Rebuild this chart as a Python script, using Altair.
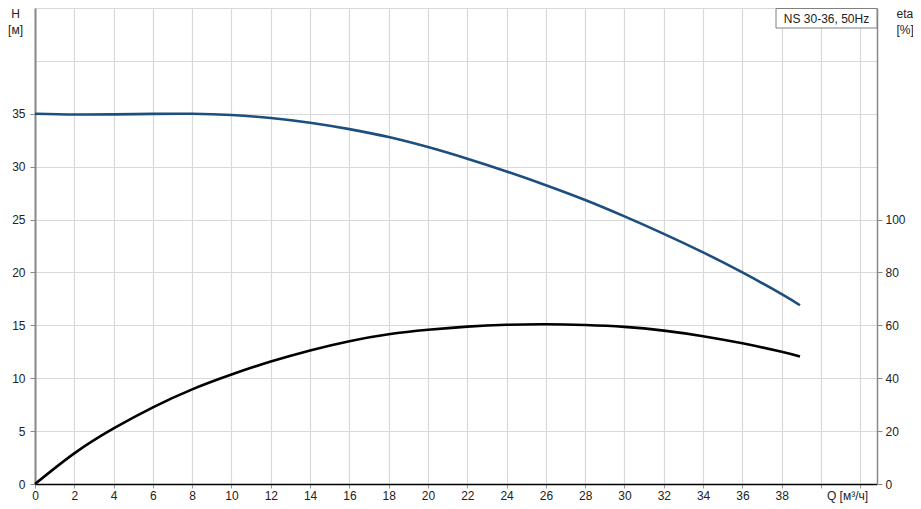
import altair as alt
import pandas as pd

# pump curve NS 30-36, 50Hz
flow = [0, 2, 4, 6, 8, 10, 12, 14, 16, 18, 20,
        22, 24, 26, 28, 30, 32, 34, 36, 38, 38.93]
head = [35.0, 34.93, 34.94, 34.99, 35.0, 34.88, 34.6, 34.15, 33.55, 32.8, 31.85,
        30.75, 29.55, 28.25, 26.85, 25.3, 23.65, 21.9, 20.0, 17.95, 16.9]
eff = [0, 11.6, 21.0, 29.0, 35.8, 41.4, 46.3, 50.5, 54.0, 56.6, 58.3,
       59.5, 60.2, 60.4, 60.1, 59.4, 58.0, 55.9, 53.2, 50.0, 48.2]

q_ticks = list(range(0, 43, 2))
h_ticks = list(range(0, 46, 5))
eta_ticks = [0, 20, 40, 60, 80, 100]
legend_text = ["NS 30-36, 50Hz"]

df = pd.DataFrame({"q": flow, "h": head, "eta": eff})

W, H = 842, 476
FONT = "Liberation Sans"

x = alt.X(
    "q:Q",
    scale=alt.Scale(domain=[0, 42.85], nice=False),
    axis=alt.Axis(
        values=q_ticks,
        labelExpr="datum.value > 38 ? '' : datum.label",
        labelFlush=False,
        labelOverlap=False,
        title="Q [м³/ч]",
        titleX=812,
        titleY=6,
        titleAlign="center",
        titleBaseline="top",
        domainColor="#000000",
        domainWidth=1.5,
        tickColor="#999999",
        tickSize=4,
        labelPadding=2,
        grid=True,
        gridColor="#d9d9d9",
        gridWidth=1.2,
    ),
)

y_h = alt.Y(
    "h:Q",
    scale=alt.Scale(domain=[0, 45], nice=False),
    axis=alt.Axis(
        values=h_ticks,
        labelExpr="datum.value > 35 ? '' : datum.label",
        labelFlush=False,
        labelOverlap=False,
        tickOpacity={"condition": {"test": "datum.value > 35", "value": 0}, "value": 1},
        title=["H", "[м]"],
        titleAngle=0,
        titleX=-20,
        titleY=0,
        titleAlign="center",
        titleBaseline="top",
        titleLineHeight=16,
        domainColor="#888888",
        domainWidth=2,
        tickColor="#888888",
        tickSize=5,
        labelPadding=5,
        grid=True,
        gridColor="#d9d9d9",
        gridWidth=1.2,
    ),
)

y_eta = alt.Y(
    "eta:Q",
    scale=alt.Scale(domain=[0, 180], nice=False),
    axis=alt.Axis(
        orient="right",
        values=eta_ticks,
        labelFlush=False,
        grid=False,
        title=["eta", "[%]"],
        titleAngle=0,
        titleX=19,
        titleY=0,
        titleAlign="left",
        titleBaseline="top",
        titleLineHeight=16,
        domainColor="#888888",
        domainWidth=1.5,
        tickColor="#888888",
        tickSize=5,
        labelPadding=3,
    ),
)

base = alt.Chart(df)
h_line = base.mark_line(color="#1c4e7e", strokeWidth=2.6, interpolate="natural").encode(x=x, y=y_h)
eta_line = base.mark_line(color="#000000", strokeWidth=2.6, interpolate="natural").encode(x=x, y=y_eta)

lab = alt.Chart(pd.DataFrame({"label": legend_text}))
box = lab.mark_rect(fill="white", stroke="#808080", strokeWidth=1).encode(
    x=alt.value(W - 101), x2=alt.value(W), y=alt.value(0.5), y2=alt.value(20)
)
box_text = lab.mark_text(font=FONT, fontSize=12, color="#222222").encode(
    x=alt.value(W - 50.5), y=alt.value(10.5), text="label:N"
)

chart = (
    alt.layer(h_line, eta_line, box, box_text)
    .resolve_scale(y="independent")
    .properties(
        width=W,
        height=H,
        autosize=alt.AutoSizeParams(type="none"),
        padding={"left": 27, "top": 0, "right": 36, "bottom": 22},
    )
    .configure_view(stroke=None)
    .configure_axis(
        labelFont=FONT,
        titleFont=FONT,
        labelFontSize=12,
        titleFontSize=12,
        titleFontWeight="normal",
        labelColor="#222222",
        titleColor="#222222",
    )
)

chart.save("out.html", embed_options={"renderer": "svg", "actions": False})
